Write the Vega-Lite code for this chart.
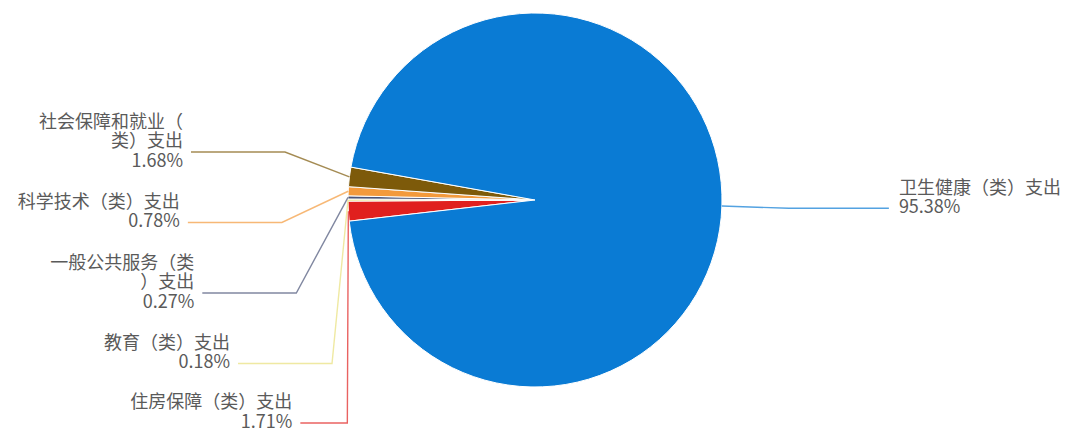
{
  "$schema": "https://vega.github.io/schema/vega-lite/v6.json",
  "width": 1076,
  "height": 437,
  "autosize": {"type": "fit", "contains": "padding"},
  "padding": 0,
  "background": "white",
  "config": {"view": {"stroke": null}},
  "data": {
    "values": [
      {"category": "住房保障（类）支出", "pct": 1.71, "order": 1},
      {"category": "教育（类）支出", "pct": 0.18, "order": 2},
      {"category": "一般公共服务（类）支出", "pct": 0.27, "order": 3},
      {"category": "科学技术（类）支出", "pct": 0.78, "order": 4},
      {"category": "社会保障和就业（类）支出", "pct": 1.68, "order": 5},
      {"category": "卫生健康（类）支出", "pct": 95.38, "order": 6}
    ]
  },
  "transform": [
    {"window": [{"op": "sum", "field": "pct", "as": "cum"}], "sort": [{"field": "order", "order": "ascending"}], "frame": [null, 0]},
    {"joinaggregate": [{"op": "sum", "field": "pct", "as": "total"}]},
    {"calculate": "4.599 + 2*PI*(datum.cum - datum.pct/2)/datum.total", "as": "a"},
    {"calculate": "187*sin(datum.a)", "as": "x0"},
    {"calculate": "-187*cos(datum.a)", "as": "y0"},
    {"calculate": "datum.x0 < 0 ? 'L' : 'R'", "as": "side"},
    {"window": [{"op": "row_number", "as": "rank"}], "groupby": ["side"], "sort": [{"field": "y0", "order": "ascending"}]},
    {"calculate": "datum.side == 'L' ? min(-48 + 70.5*(datum.rank-1), 223) : datum.y0*1.4", "as": "labelY"},
    {"calculate": "254*sqrt(max(0, 1 - pow(datum.labelY/272, 2)))", "as": "ex"},
    {"calculate": "datum.side == 'L' ? min(-datum.ex, datum.x0 - 1) : max(datum.ex, datum.x0 + 1)", "as": "ax"},
    {"calculate": "datum.side == 'R' ? 100 : (abs(datum.labelY) > 191 ? 47 : 94)", "as": "len2"},
    {"calculate": "datum.side == 'L' ? datum.ax - datum.len2 : datum.ax + datum.len2", "as": "ex2"},
    {"calculate": "datum.side == 'L' ? datum.ex2 - 8 : datum.ex2 + 10", "as": "tx"},
    {"calculate": "length(datum.category) > 9 ? 3 : 2", "as": "nLines"},
    {"calculate": "datum.labelY - 10 - (datum.nLines - 1)*19.5/2", "as": "ty"},
    {"calculate": "(length(datum.category) > 9 ? substring(datum.category, 0, 8) + '\\n' + substring(datum.category, 8) : datum.category) + '\\n' + format(datum.pct, '.2f') + '%'", "as": "label"}
  ],
  "layer": [
    {
      "mark": {"type": "arc", "outerRadius": 187, "stroke": "#ffffff", "strokeWidth": 1},
      "encoding": {
        "theta": {"field": "pct", "type": "quantitative", "stack": true, "scale": {"range": [4.599, 10.8822]}},
        "order": {"field": "order", "type": "quantitative"},
        "color": {
          "field": "category", "type": "nominal", "legend": null,
          "scale": {
            "domain": ["住房保障（类）支出", "教育（类）支出", "一般公共服务（类）支出", "科学技术（类）支出", "社会保障和就业（类）支出", "卫生健康（类）支出"],
            "range": ["#E0201E", "#E8E07A", "#4A5478", "#F39A3C", "#7D5A0A", "#0A7BD4"]
          }
        },
        "x": {"datum": 0, "type": "quantitative", "scale": {"domain": [-535, 541], "nice": false, "zero": false}, "axis": null},
        "y": {"datum": 0, "type": "quantitative", "scale": {"domain": [-200, 237], "nice": false, "zero": false, "reverse": true}, "axis": null}
      }
    },
    {
      "transform": [
        {"calculate": "datum.x0", "as": "lx0"},
        {"calculate": "datum.ax", "as": "lx1"},
        {"calculate": "datum.ex2", "as": "lx2"},
        {"fold": ["lx0", "lx1", "lx2"], "as": ["pt", "lx"]},
        {"calculate": "datum.pt == 'lx0' ? datum.y0 : datum.labelY", "as": "ly"}
      ],
      "mark": {"type": "line", "strokeWidth": 1.4, "strokeOpacity": 0.7},
      "encoding": {
        "x": {"field": "lx", "type": "quantitative", "scale": {"domain": [-535, 541], "nice": false, "zero": false}, "axis": null},
        "y": {"field": "ly", "type": "quantitative", "scale": {"domain": [-200, 237], "nice": false, "zero": false, "reverse": true}, "axis": null},
        "detail": {"field": "category"},
        "order": {"field": "pt"},
        "color": {"field": "category", "type": "nominal", "legend": null}
      }
    },
    {
      "transform": [{"filter": "datum.side == 'L'"}],
      "mark": {"type": "text", "align": "right", "baseline": "middle", "lineBreak": "\n", "lineHeight": 19.5, "fontSize": 18, "font": "Noto Sans CJK SC", "color": "#5a5a5a"},
      "encoding": {
        "x": {"field": "tx", "type": "quantitative", "scale": {"domain": [-535, 541], "nice": false, "zero": false}, "axis": null},
        "y": {"field": "ty", "type": "quantitative", "scale": {"domain": [-200, 237], "nice": false, "zero": false, "reverse": true}, "axis": null},
        "text": {"field": "label"}
      }
    },
    {
      "transform": [{"filter": "datum.side == 'R'"}],
      "mark": {"type": "text", "align": "left", "baseline": "middle", "lineBreak": "\n", "lineHeight": 19.5, "fontSize": 18, "font": "Noto Sans CJK SC", "color": "#5a5a5a"},
      "encoding": {
        "x": {"field": "tx", "type": "quantitative", "scale": {"domain": [-535, 541], "nice": false, "zero": false}, "axis": null},
        "y": {"field": "ty", "type": "quantitative", "scale": {"domain": [-200, 237], "nice": false, "zero": false, "reverse": true}, "axis": null},
        "text": {"field": "label"}
      }
    }
  ]
}
